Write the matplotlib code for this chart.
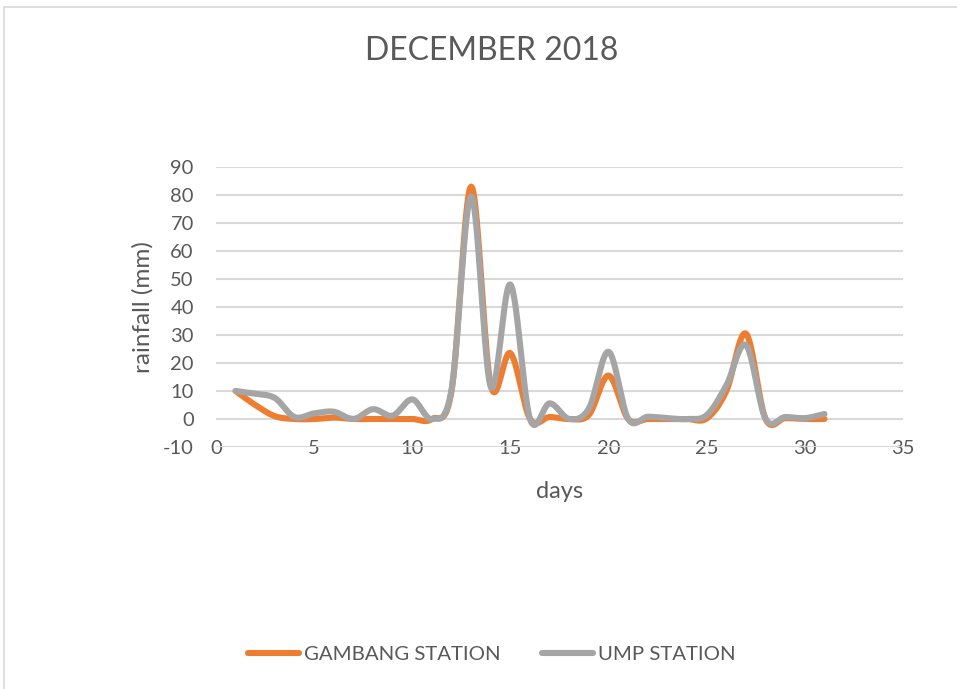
import numpy as np
import matplotlib
matplotlib.use("Agg")
import matplotlib.pyplot as plt
from matplotlib.lines import Line2D
from matplotlib.patches import Rectangle

# ---- data ----
days = list(range(1, 32))
gambang = [10, 5, 1, 0, 0, 0.5, 0, 0, 0, 0, 0, 10, 83, 12, 23.5, 0, 0.7, 0, 1.5, 15.5,
           0, 0, 0, 0, 0.2, 10, 30.5, 0, 0.3, 0, 0]
ump = [10, 9, 7.5, 0.7, 2, 2.6, 0, 3.5, 1.2, 7, 0, 10.5, 79.5, 11.5, 48, 0, 5.6, 0, 3.8, 24,
       0, 0.8, 0.3, 0, 1.4, 12, 26.4, 0, 0.7, 0.3, 1.8]
series_names = ["GAMBANG STATION", "UMP STATION"]
colors = ["#ED7D31", "#A5A5A5"]
x_ticks = [0, 5, 10, 15, 20, 25, 30, 35]
y_ticks = [-10, 0, 10, 20, 30, 40, 50, 60, 70, 80, 90]
title = "DECEMBER 2018"
xlabel = "days"
ylabel = "rainfall (mm)"


def smooth(xs, ys, n=30):
    """Catmull-Rom style Bezier smoothing (like Excel smoothed lines)."""
    xs = np.asarray(xs, float)
    ys = np.asarray(ys, float)
    P = np.column_stack([xs, ys])
    out = []
    m = len(P)
    for i in range(m - 1):
        p0 = P[i - 1] if i > 0 else P[i]
        p1 = P[i]
        p2 = P[i + 1]
        p3 = P[i + 2] if i + 2 < m else P[i + 1]
        c1 = p1 + (p2 - p0) / 6.0
        c2 = p2 - (p3 - p1) / 6.0
        t = np.linspace(0, 1, n, endpoint=(i == m - 2))[:, None]
        b = ((1 - t) ** 3) * p1 + 3 * ((1 - t) ** 2) * t * c1 + 3 * (1 - t) * t ** 2 * c2 + t ** 3 * p2
        out.append(b)
    out = np.vstack(out)
    return out[:, 0], out[:, 1]


plt.rcParams['font.family'] = ['Lato', 'DejaVu Sans']
text_color = "#595959"
grid_color = "#D9D9D9"

W, H = 957, 689
fig = plt.figure(figsize=(W / 100, H / 100), dpi=100)
fig.patch.set_facecolor("white")

# figure border
fig.add_artist(Rectangle((4 / W, -0.01), 1.0, 1 - 7 / H + 0.01, transform=fig.transFigure,
                         fill=False, edgecolor=grid_color, linewidth=1.2))

left, right = 216 / W, 903 / W
top, bottom = 1 - 167 / H, 1 - 447 / H
ax = fig.add_axes([left, bottom, right - left, top - bottom])

for ys, c, name in zip([gambang, ump], colors, series_names):
    sx, sy = smooth(days, ys)
    ax.plot(sx, sy, color=c, linewidth=4.4, solid_capstyle='round', solid_joinstyle='round', label=name)

ax.set_xlim(0, 35)
ax.set_ylim(-10, 90)
ax.set_xticks(x_ticks)
ax.set_yticks(y_ticks)
ax.set_xticklabels([str(v) for v in x_ticks])
ax.set_yticklabels([str(v) for v in y_ticks])
for s in ax.spines.values():
    s.set_visible(False)
ax.grid(axis='y', color=grid_color, linewidth=1.5)
ax.set_axisbelow(True)
ax.tick_params(axis='both', length=0, labelsize=14.5, labelcolor=text_color)
ax.tick_params(axis='y', pad=16)
ax.tick_params(axis='x', pad=-5)

fig.text(492 / W, 1 - 51 / H, title, ha='center', va='center', fontsize=23, color=text_color)

fig.text(560 / W, 1 - 492 / H, xlabel, ha='center', va='center', fontsize=17, color=text_color)
fig.text(143 / W, 1 - 307 / H, ylabel, ha='center', va='center', fontsize=17.5, color=text_color,
         rotation=90)

handles = [Line2D([0], [0], color=c, linewidth=4.4, solid_capstyle='round') for c in colors]
fig.legend(handles, series_names, loc='center', bbox_to_anchor=(492 / W, 1 - 654 / H), ncol=2,
           frameon=False, fontsize=14.7, labelcolor=text_color, handlelength=2.5,
           handletextpad=0.25, columnspacing=2.0)

fig.savefig("out.png", dpi=100, facecolor="white")
